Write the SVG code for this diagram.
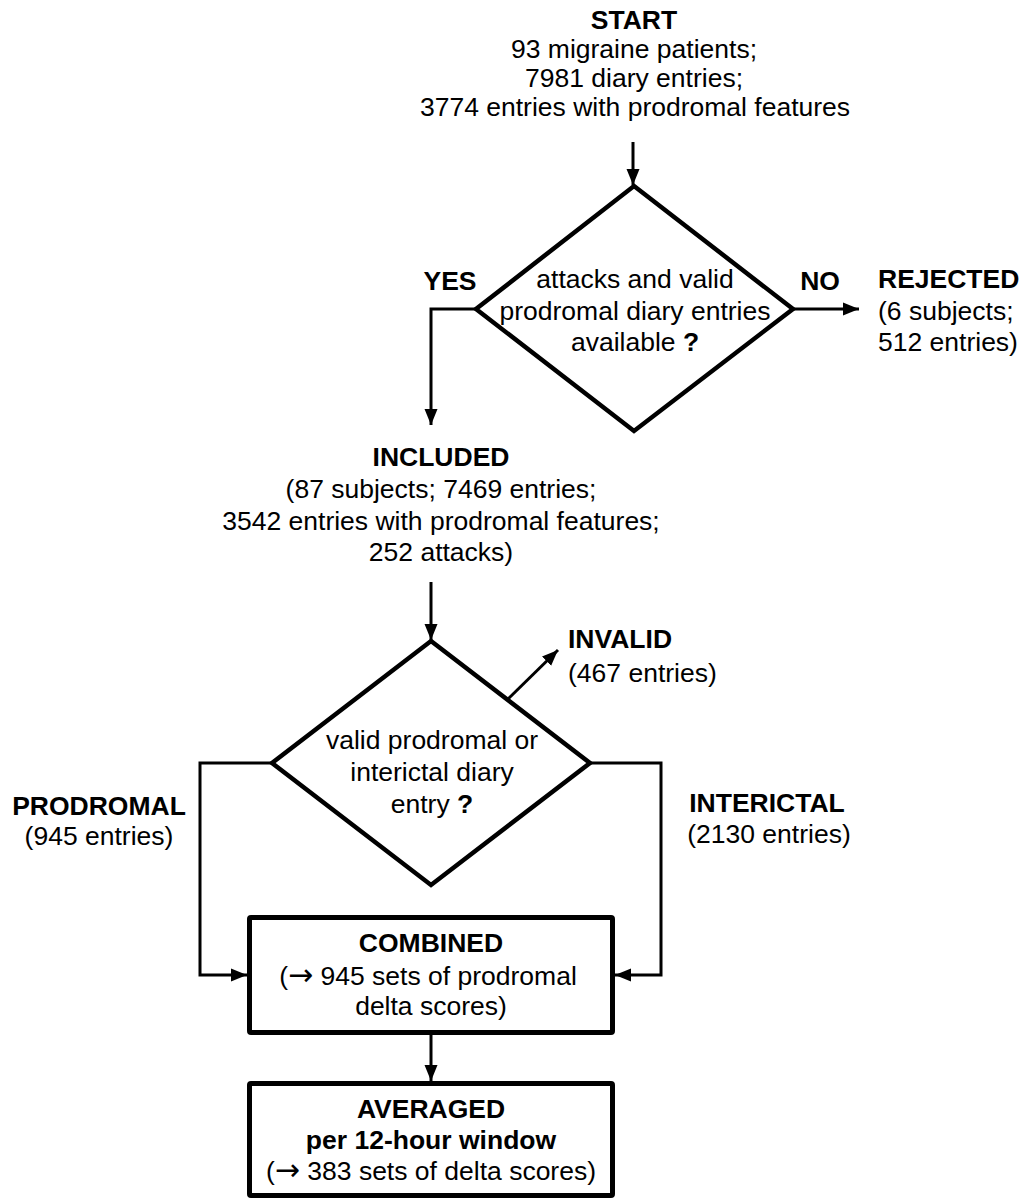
<svg xmlns="http://www.w3.org/2000/svg" width="1023" height="1198" viewBox="0 0 1023 1198">
<defs>
<style>
text{font-family:"Liberation Sans",Arial,sans-serif;font-size:26.5px;fill:#000}
.b{font-weight:bold}
.c{text-anchor:middle}
.ar{font-family:"DejaVu Sans",sans-serif;font-size:30px}
.shape{fill:none;stroke:#000;stroke-width:4.5;stroke-linejoin:miter}
.box{fill:none;stroke:#000;stroke-width:5;stroke-linejoin:round}
.con{fill:none;stroke:#000;stroke-width:3}
</style>
<marker id="ah" markerUnits="userSpaceOnUse" markerWidth="17" markerHeight="14" refX="16" refY="7" orient="auto">
<path d="M0,0.5 L16,7 L0,13.5 z" fill="#000"/>
</marker>
</defs>
<rect width="1023" height="1198" fill="#fff"/>

<g id="start">
<text class="c b" x="634" y="29">START</text>
<text class="c" x="634" y="58">93 migraine patients;</text>
<text class="c" x="634" y="87">7981 diary entries;</text>
<text class="c" x="635" y="116">3774 entries with prodromal features</text>
</g>

<g id="decision1">
<polygon class="shape" points="634,186 793,309 634,431 476,309"/>
<text class="c" x="635" y="288">attacks and valid</text>
<text class="c" x="635" y="320">prodromal diary entries</text>
<text class="c" x="635" y="351">available <tspan class="b">?</tspan></text>
</g>

<g id="rejected">
<text class="b" x="878" y="288">REJECTED</text>
<text x="878" y="320">(6 subjects;</text>
<text x="878" y="351">512 entries)</text>
</g>

<g id="included">
<text class="c b" x="441" y="466">INCLUDED</text>
<text class="c" x="441" y="498">(87 subjects; 7469 entries;</text>
<text class="c" x="441" y="530">3542 entries with prodromal features;</text>
<text class="c" x="441" y="561">252 attacks)</text>
</g>

<g id="decision2">
<polygon class="shape" points="431,641 590,763 431,885 272,763"/>
<text class="c" x="432" y="749">valid prodromal or</text>
<text class="c" x="432" y="781">interictal diary</text>
<text class="c" x="432" y="813">entry <tspan class="b">?</tspan></text>
</g>

<g id="invalid">
<text class="b" x="568" y="648">INVALID</text>
<text x="568" y="682">(467 entries)</text>
</g>

<g id="prodromal">
<text class="c b" x="99" y="815">PRODROMAL</text>
<text class="c" x="99" y="845">(945 entries)</text>
</g>

<g id="interictal">
<text class="c b" x="767" y="812">INTERICTAL</text>
<text class="c" x="769" y="843">(2130 entries)</text>
</g>

<g id="combined">
<rect class="box" x="249.5" y="917.5" width="363" height="115" rx="1.5"/>
<text class="c b" x="431" y="952">COMBINED</text>
<text class="c" x="428" y="985">(<tspan class="ar">→</tspan> 945 sets of prodromal</text>
<text class="c" x="431" y="1015">delta scores)</text>
</g>

<g id="averaged">
<rect class="box" x="249.5" y="1083.5" width="363" height="112" rx="1.5"/>
<text class="c b" x="431" y="1118">AVERAGED</text>
<text class="c b" x="431" y="1149">per 12-hour window</text>
<text class="c" x="431" y="1180">(<tspan class="ar">→</tspan> 383 sets of delta scores)</text>
</g>

<g id="connectors">
<line class="con" x1="633" y1="142" x2="633" y2="185" marker-end="url(#ah)"/>
<text class="c b" x="450" y="290">YES</text>
<polyline class="con" points="476,309 431,309 431,425" marker-end="url(#ah)"/>
<text class="c b" x="820" y="290">NO</text>
<line class="con" x1="793" y1="309" x2="859" y2="309" marker-end="url(#ah)"/>
<line class="con" x1="431" y1="582" x2="431" y2="640" marker-end="url(#ah)"/>
<line class="con" x1="508" y1="699" x2="558" y2="650" marker-end="url(#ah)"/>
<polyline class="con" points="272,763 200,763 200,975 247,975" marker-end="url(#ah)"/>
<polyline class="con" points="590,763 661,763 661,975 615,975" marker-end="url(#ah)"/>
<line class="con" x1="431" y1="1035" x2="431" y2="1081" marker-end="url(#ah)"/>
</g>
</svg>
